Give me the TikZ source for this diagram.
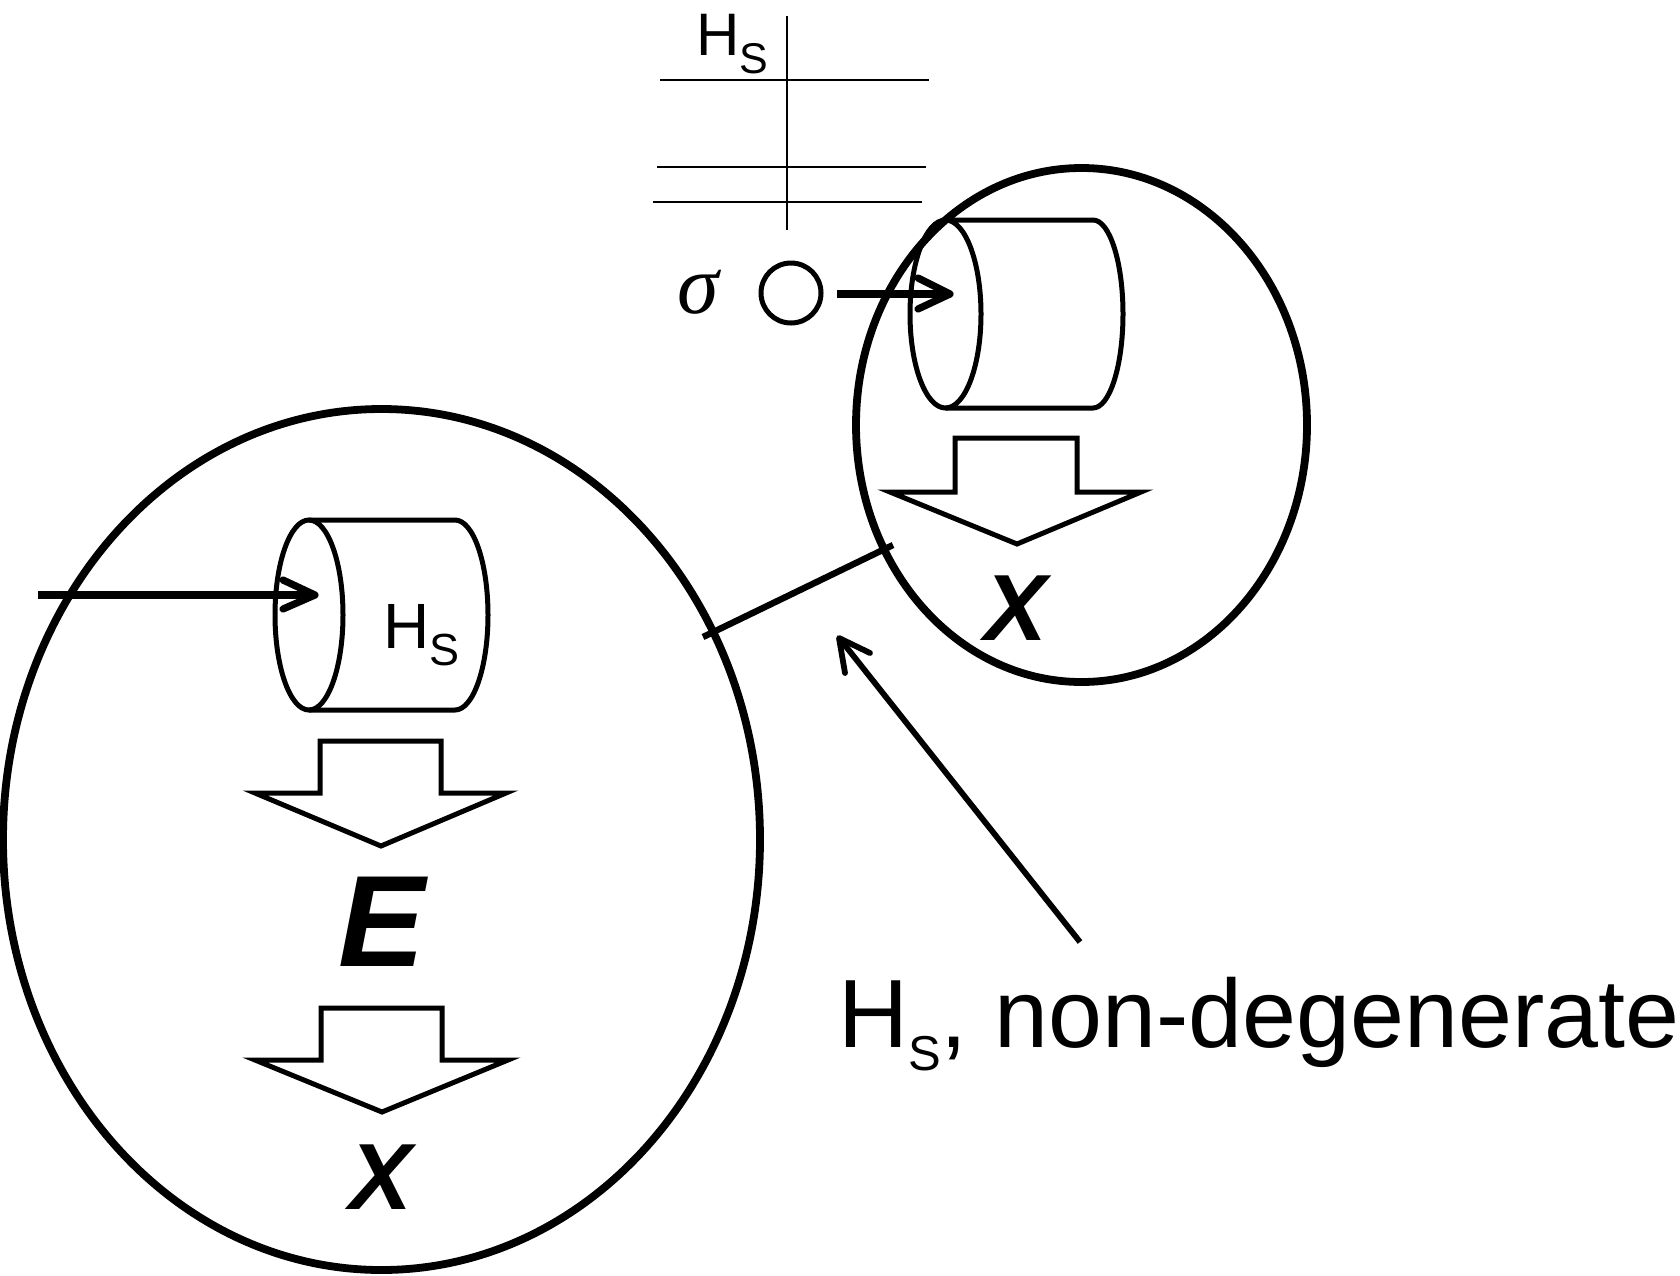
\documentclass[tikz,border=0pt]{standalone}
\usepackage{fontspec}
\setmainfont{Liberation Sans}
\newfontfamily\seriffont{Liberation Serif}
\begin{document}
\begin{tikzpicture}[x=0.5pt,y=-0.5pt,
  thinline/.style={line width=1.1pt},
  bigring/.style={line width=3.9pt},
  cyl/.style={line width=2.5pt},
  blockarrow/.style={line width=2.5pt,miter limit=20},
  feed/.style={line width=3.6pt,line cap=round,line join=round},
  pointer/.style={line width=2.9pt,line cap=round,line join=round},
  lbl/.style={inner sep=0pt,outer sep=0pt}]
\useasboundingbox (0,0) rectangle (1680,1275);

% ---- top level diagram ----
\coordinate (vtop) at (787,16);
\coordinate (vbot) at (787,230);
\draw[thinline] (vtop) -- (vbot);
\coordinate (l1a) at (660,80);  \coordinate (l1b) at (929,80);
\coordinate (l2a) at (657,167); \coordinate (l2b) at (926,167);
\coordinate (l3a) at (653,202); \coordinate (l3b) at (922,202);
\draw[thinline] (l1a) -- (l1b);
\draw[thinline] (l2a) -- (l2b);
\draw[thinline] (l3a) -- (l3b);
\node[lbl,anchor=base west] (hstop) at (696,55)
  {\fontsize{30}{30}\selectfont H\raisebox{-9pt}{\fontsize{21.5}{21.5}\selectfont S}};

% ---- large left ellipse ----
\draw[bigring] (381.5,839.5) ellipse [x radius=378.5,y radius=430.5];

% ---- small right ellipse ----
\draw[bigring] (1081.5,425) ellipse [x radius=225.5,y radius=257];

% ---- left cylinder ----
\draw[cyl] (309,615) ellipse [x radius=34,y radius=95];
\draw[cyl] (309,520) -- (455,520) arc[start angle=-90,end angle=90,x radius=33,y radius=95] -- (309,710);
\node[lbl,anchor=base west] (hscyl) at (383,648)
  {\fontsize{32}{32}\selectfont H\raisebox{-8.5pt}{\fontsize{22.5}{22.5}\selectfont S}};

% ---- top cylinder ----
\draw[cyl] (945.5,314) ellipse [x radius=35.5,y radius=94];
\draw[cyl] (945.5,220) -- (1093,220) arc[start angle=-90,end angle=90,x radius=30,y radius=94] -- (945.5,408);

% ---- feed arrows ----
\coordinate (feedL0) at (38,595);
\coordinate (feedL1) at (313,595);
\draw[feed,line cap=butt] (feedL0) -- (feedL1);
\draw[feed] (283,580) -- (315,595) -- (283,609);

\coordinate (feedT0) at (837,294);
\coordinate (feedT1) at (948,294);
\draw[feed,line cap=butt] (feedT0) -- (feedT1);
\draw[feed] (918,278) -- (950,294) -- (918,309);

% ---- particle and sigma ----
\draw[line width=2.5pt] (791,293) circle[radius=30];
\node[lbl] (sig) at (698,292) {\seriffont\itshape\fontsize{42}{42}\selectfont σ};

% ---- block arrows ----
\draw[blockarrow] (320,741) -- (441,741) -- (441,793) -- (506,793) -- (381,846) -- (255,793) -- (320,793) -- cycle;
\draw[blockarrow] (321,1008) -- (442,1008) -- (442,1060) -- (508,1060) -- (382,1112) -- (255,1060) -- (321,1060) -- cycle;
\draw[blockarrow] (955,438) -- (1077,438) -- (1077,492) -- (1141,492) -- (1017,544) -- (890,492) -- (955,492) -- cycle;

% ---- letters ----
\node[lbl] (E) at (382,921.5) {\bfseries\itshape\fontsize{65}{65}\selectfont E};
\node[lbl] (Xl) at (381,1177) {\bfseries\itshape\fontsize{47}{47}\selectfont X};
\node[lbl] (Xr) at (1016,608.5) {\bfseries\itshape\fontsize{47}{47}\selectfont X};

% ---- link between ellipses ----
\coordinate (linkA) at (703,637);
\coordinate (linkB) at (893,545);
\draw[line width=3.2pt] (linkA) -- (linkB);

% ---- pointer ----
\coordinate (ptail) at (1080,942);
\coordinate (ptip) at (840,639);
\draw[pointer,line cap=butt] (ptail) -- (ptip);
\draw[pointer] (845,673) -- (839,638) -- (870,653);

\node[lbl,anchor=base west] (caption) at (838,1047)
  {\fontsize{48.5}{48.5}\selectfont H\raisebox{-11.5pt}{\fontsize{24.5}{24.5}\selectfont S}, non-degenerate};
\end{tikzpicture}
\end{document}
